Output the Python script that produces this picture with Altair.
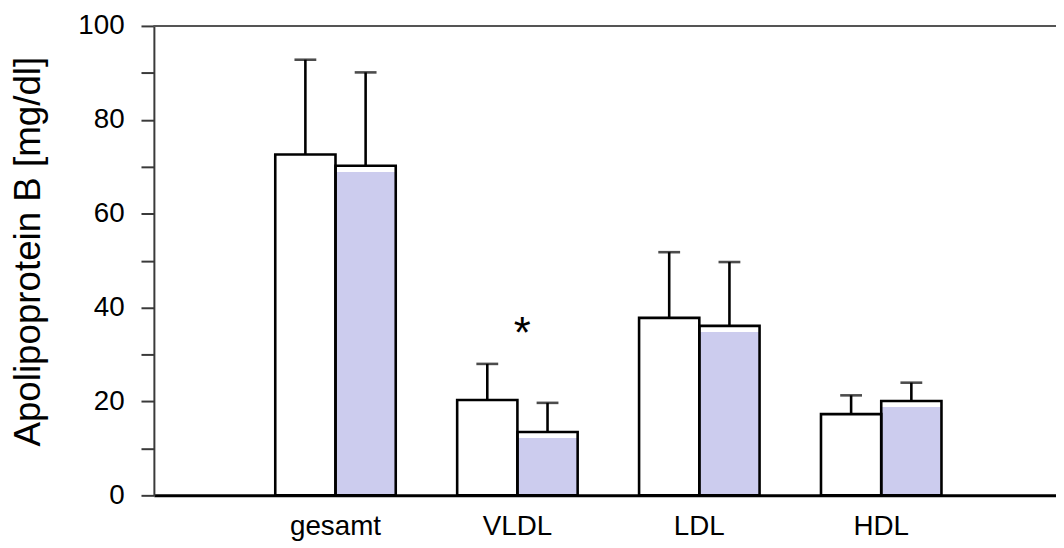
import altair as alt
import pandas as pd

categories = ["gesamt", "VLDL", "LDL", "HDL"]
groups = ["A", "B"]
mean_a = [72.6, 20.3, 37.8, 17.3]
upper_a = [92.8, 28.0, 51.8, 21.3]
mean_b = [70.2, 13.5, 36.1, 20.1]
upper_b = [90.1, 19.7, 49.7, 24.0]
star_category = ["VLDL"]
star_value = [36.0]

rows = []
for i, c in enumerate(categories):
    rows.append(dict(cat=c, grp="A", mean=mean_a[i], upper=upper_a[i]))
    rows.append(dict(cat=c, grp="B", mean=mean_b[i], upper=upper_b[i]))
df = pd.DataFrame(rows)
star_df = pd.DataFrame({"cat": star_category, "v": star_value, "t": ["*"]})

FONT = "Liberation Sans"

xscale = alt.Scale(domain=categories, paddingInner=0.3377, paddingOuter=0.6484, align=0.5145)
yscale = alt.Scale(domain=[0, 100], nice=False, zero=True)

x = alt.X("cat:N", sort=categories, title=None, scale=xscale,
          axis=alt.Axis(labelAngle=0, ticks=False, domainColor="black", domainWidth=3,
                        labelFont=FONT, labelFontSize=28, labelColor="black",
                        labelPadding=17, grid=False))
xoff = alt.XOffset("grp:N", sort=groups, scale=alt.Scale(paddingInner=0, paddingOuter=0))
y = alt.Y("mean:Q", scale=yscale, title="Apolipoprotein B [mg/dl]",
          axis=alt.Axis(values=list(range(0, 101, 10)),
                        labelExpr="datum.value % 20 == 0 ? datum.label : ''",
                        domainColor="#3a3a3a", domainWidth=2, tickColor="#3a3a3a", tickWidth=2,
                        tickSize=13, labelFont=FONT, labelFontSize=28, labelColor="black",
                        labelPadding=17, grid=False, titleFont=FONT, titleFontSize=37,
                        titleFontWeight="normal", titleColor="black", titlePadding=31,
                        titleY=227))

base = alt.Chart(df)

# shaded fill of the second series sits a little below the outline's top edge
fill = base.transform_filter(alt.datum.grp == "B").transform_calculate(
    ftop="datum.mean - 1.3").mark_bar(color="#ccccee").encode(
    x=x, xOffset=xoff, y=alt.Y("ftop:Q", scale=yscale))

outline = base.mark_bar(fillOpacity=0, stroke="black", strokeWidth=2.6).encode(
    x=x, xOffset=xoff, y=y)

err = base.mark_rule(color="black", strokeWidth=2.6).encode(
    x=x, xOffset=xoff, y=y, y2="upper:Q")

cap = base.mark_tick(color="black", size=22, thickness=2.6).encode(
    x=x, xOffset=xoff, y=alt.Y("upper:Q", scale=yscale))

star = alt.Chart(star_df).mark_text(fontSize=44, font=FONT, color="black",
                                    baseline="middle", dy=9, dx=5).encode(
    x=alt.X("cat:N", scale=xscale), y=alt.Y("v:Q", scale=yscale), text="t:N")

top = alt.Chart(df).mark_rule(color="#555", strokeWidth=2).encode(y=alt.datum(100))

chart = alt.layer(fill, outline, err, cap, star, top).properties(
    width=909, height=473,
    autosize=alt.AutoSizeParams(type="none"),
    padding={"left": 147, "top": 16, "right": 0, "bottom": 51},
    background="white",
).configure_view(stroke=None)

chart.save("out.html", embed_options={"renderer": "svg", "actions": False})
